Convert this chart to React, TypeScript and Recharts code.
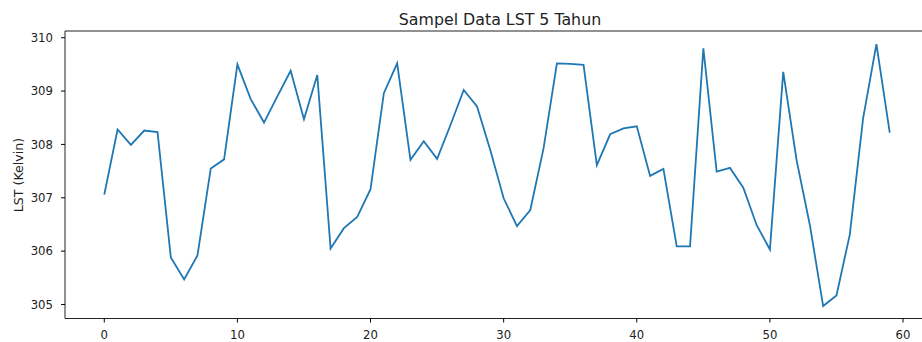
import React from 'react';
import { LineChart, Line, XAxis, YAxis, ReferenceArea } from 'recharts';

const indices: number[] = Array.from({ length: 60 }, (_, i) => i);
const lstValues: number[] = [
  307.06, 308.28, 307.99, 308.26, 308.23, 305.88, 305.47, 305.92, 307.55, 307.72,
  309.50, 308.85, 308.41, 308.90, 309.38, 308.47, 309.30, 306.05, 306.43, 306.64,
  307.16, 308.96, 309.52, 307.71, 308.06, 307.73, 308.36, 309.02, 308.71, 307.89,
  306.99, 306.47, 306.77, 307.93, 309.52, 309.51, 309.49, 307.61, 308.19, 308.30,
  308.34, 307.41, 307.54, 306.09, 306.09, 309.80, 307.49, 307.56, 307.19, 306.49,
  306.03, 309.36, 307.71, 306.49, 304.97, 305.17, 306.31, 308.49, 309.88, 308.22,
];
const xTicks: number[] = [0, 10, 20, 30, 40, 50, 60];
const yTicks: number[] = [305, 306, 307, 308, 309, 310];
const title = 'Sampel Data LST 5 Tahun';
const yLabel = 'LST (Kelvin)';

const data = indices.map((i) => ({ x: i, lst: lstValues[i] }));

const xMin = -2.95;
const xMax = 61.95;
const yMin = 304.737;
const yMax = 310.126;

const FONT = 'DejaVu Sans, sans-serif';

export default function App() {
  return (
    <div style={{ position: 'absolute', left: 0, top: 0, width: 922, height: 342, overflow: 'hidden', background: '#fff' }}>
      <LineChart
        width={940}
        height={342}
        data={data}
        margin={{ top: 31, right: 11, bottom: 0, left: 0 }}
      >
        <XAxis
          dataKey="x"
          type="number"
          domain={[xMin, xMax]}
          ticks={xTicks}
          height={23.5}
          axisLine={false}
          tickLine={{ stroke: '#000', strokeWidth: 1 }}
          tickSize={4}
          tickMargin={8}
          tick={{ fill: '#222', fontSize: 11.7, fontFamily: FONT }}
          allowDataOverflow
          interval={0}
        />
        <YAxis
          type="number"
          domain={[yMin, yMax]}
          ticks={yTicks}
          width={65}
          axisLine={false}
          tickLine={{ stroke: '#000', strokeWidth: 1 }}
          tickSize={4}
          tickMargin={8}
          tick={{ fill: '#222', fontSize: 11.7, fontFamily: FONT }}
          allowDataOverflow
          interval={0}
        />
        <ReferenceArea
          x1={xMin}
          x2={xMax}
          y1={yMin}
          y2={yMax}
          fill="none"
          fillOpacity={0}
          stroke="#222"
          strokeWidth={1}
          ifOverflow="visible"
        />
        <Line
          type="linear"
          dataKey="lst"
          stroke="#1f77b4"
          strokeWidth={1.8}
          dot={false}
          activeDot={false}
          isAnimationActive={false}
        />
        <text x={500} y={24.5} textAnchor="middle" fontSize={15.8} fontFamily={FONT} fill="#222">
          {title}
        </text>
        <text
          x={23}
          y={175}
          textAnchor="middle"
          fontSize={12.6}
          fontFamily={FONT}
          fill="#222"
          transform="rotate(-90, 23, 175)"
        >
          {yLabel}
        </text>
      </LineChart>
    </div>
  );
}
